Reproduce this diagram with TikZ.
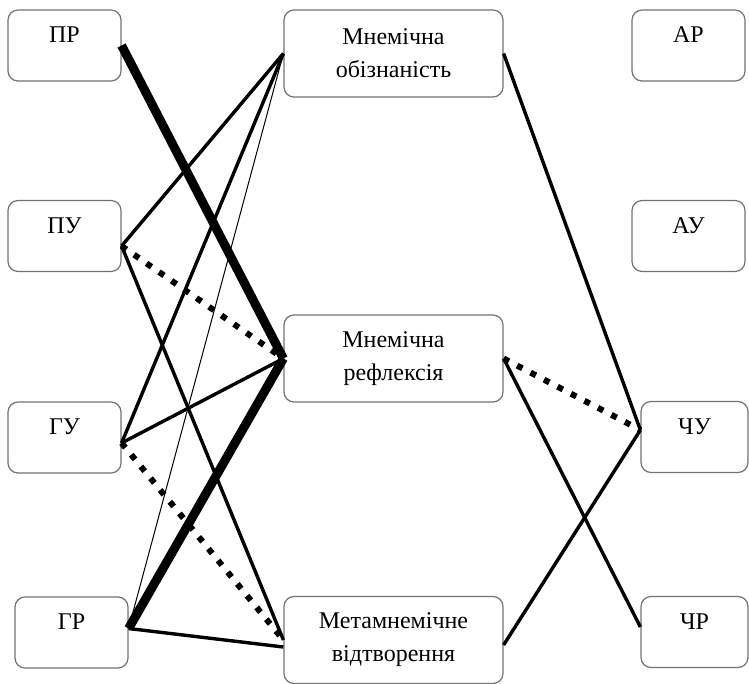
\documentclass[tikz,border=0pt]{standalone}
\usepackage{fontspec}
\setmainfont{Liberation Serif}
\begin{document}
\begin{tikzpicture}[x=0.5pt, y=-0.5pt,
    box/.style={draw=gray!90!black, line width=0.6pt, rounded corners=5pt, fill=white,
      font=\fontsize{12}{16.5}\selectfont, inner sep=0pt},
    markbox/.style={box, minimum height=35.5pt, text height=9pt, text depth=11.9pt},
    stagebox/.style={box, minimum width=109.5pt, minimum height=43.5pt, align=center},
    link/.style={line width=1.7pt},
    strong/.style={line width=4.5pt},
    weak/.style={line width=0.5pt},
    dots/.style={line width=3pt, dash pattern=on 3pt off 4.6pt}]
  \useasboundingbox (0, 0) rectangle (749, 684);
  % left column
  \node[markbox, minimum width=56.5pt] (pr) at (64.5, 45.5) {ПР};
  \node[markbox, minimum width=56.5pt] (pu) at (64.5, 236) {ПУ};
  \node[markbox, minimum width=56.5pt] (gu) at (64.5, 437.5) {ГУ};
  \node[markbox, minimum width=56.5pt] (gr) at (71.5, 632.5) {ГР};
  % middle column
  \node[stagebox] (mo) at (393.5, 53.5) {Мнемічна\\обізнаність};
  \node[stagebox] (mr) at (393.5, 358.5) {Мнемічна\\рефлексія};
  \node[stagebox] (mv) at (393.5, 640) {Метамнемічне\\відтворення};
  % right column
  \node[markbox, minimum width=56.5pt] (ar) at (688.5, 45.5) {АР};
  \node[markbox, minimum width=56.5pt] (au) at (688.5, 236) {АУ};
  \node[markbox, minimum width=53.5pt] (chu) at (694.5, 437) {ЧУ};
  \node[markbox, minimum width=53.5pt] (chr) at (694.5, 632) {ЧР};
  \coordinate (pu-out) at ([yshift=-5pt]pu.east);
  \coordinate (gu-out) at ([yshift=-2.75pt]gu.east);
  \coordinate (gr-out) at ([yshift=2pt]gr.east);
  \coordinate (mv-in) at ([yshift=-3.5pt]mv.west);
  \coordinate (mv-out) at ([yshift=-2.5pt]mv.east);
  \coordinate (chu-in) at ([yshift=3.5pt]chu.west);
  \coordinate (chr-in) at ([yshift=2.5pt]chr.west);
  % left links
  \draw[strong] (pr.east) -- (mr.west);
  \draw[link] (pu-out) -- (mo.west);
  \draw[dots] (pu-out) -- (mr.west);
  \draw[link] (pu-out) -- (mv.west);
  \draw[link] (gu-out) -- (mo.west);
  \draw[link] (gu-out) -- (mr.west);
  \draw[dots] (gu-out) -- (mv.west);
  \draw[weak] (gr-out) -- (mo.west);
  \draw[strong] (gr-out) -- (mr.west);
  \draw[link] (gr-out) -- (mv-in);
  % right links
  \draw[link] (mo.east) -- (chu-in);
  \draw[dots] (mr.east) -- (chu-in);
  \draw[link] (mr.east) -- (chr-in);
  \draw[link] (mv-out) -- (chu-in);
\end{tikzpicture}
\end{document}
